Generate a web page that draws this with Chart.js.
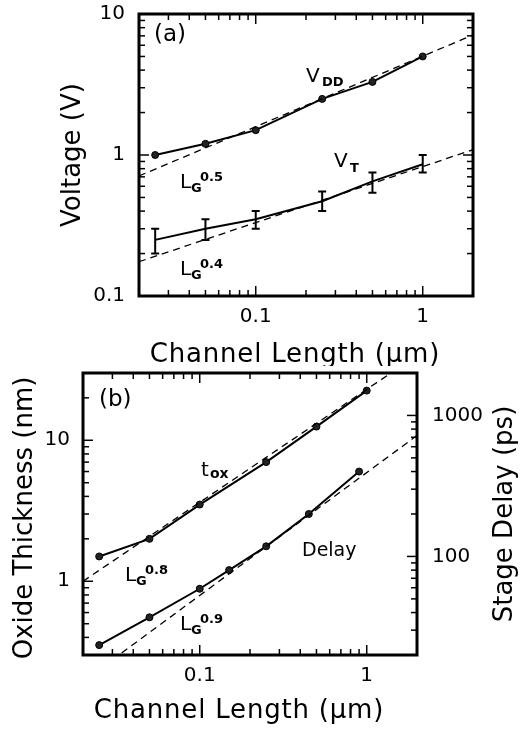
<!DOCTYPE html>
<html>
<head>
<meta charset="utf-8">
<script src="https://cdn.jsdelivr.net/npm/chart.js@4.4.1/dist/chart.umd.min.js"></script>
<style>
  body { margin: 0; background: #fff; }
  #wrap { position: relative; width: 520px; height: 731px; }
  canvas { position: absolute; left: 0; }
</style>
</head>
<body>
<div id="wrap">
  <canvas id="chartA" width="520" height="366" style="top:0px"></canvas>
  <canvas id="chartB" width="520" height="365" style="top:366px"></canvas>
</div>
<script>
// panel (a): voltages vs channel length
const lengthA = [0.025, 0.05, 0.1, 0.25, 0.5, 1];
const vdd = [1.0, 1.2, 1.5, 2.5, 3.3, 5.0];
const vt = [0.25, 0.3, 0.35, 0.47, 0.65, 0.86];
const vtLow = [0.2, 0.25, 0.3, 0.4, 0.54, 0.75];
const vtHigh = [0.3, 0.35, 0.4, 0.55, 0.75, 1.0];
// dashed power-law guides, end points
const fitVddX = [0.02, 2];
const fitVddY = [0.71, 7.1];
const fitVtX = [0.02, 2];
const fitVtY = [0.175, 1.09];

// panel (b): oxide thickness and stage delay
const lengthTox = [0.025, 0.05, 0.1, 0.25, 0.5, 1];
const tox = [1.5, 2.0, 3.5, 7.0, 12.5, 22.5];
const lengthDelay = [0.025, 0.05, 0.1, 0.15, 0.25, 0.45, 0.9];
const delay = [23.5, 37, 59, 80, 118, 200, 400];
const fitToxX = [0.02, 2];
const fitToxY = [1.0, 40];
const fitDelayX = [0.02, 2];
const fitDelayY = [13, 720];

// tick labels
const xTicks = [0.1, 1];
const yTicksA = [0.1, 1, 10];
const yTicksB = [1, 10];
const y2TicksB = [100, 1000];

const FONT = '"DejaVu Sans", sans-serif';
Chart.defaults.font.family = FONT;
Chart.defaults.color = '#000';

function pairs(xs, ys) {
    return xs.map((x, i) => ({ x: x, y: ys[i] }));
}

function zeroPad(s) {
    s.paddingLeft = 0; s.paddingRight = 0; s.paddingTop = 0; s.paddingBottom = 0;
}

function logAxis(min, max, ticks, pos, size, pad) {
    return {
        type: 'logarithmic', min: min, max: max, position: pos,
        grid: { display: false, drawTicks: false },
        border: { display: false },
        ticks: { color: '#000', font: { size: 20 }, padding: pad, maxRotation: 0, autoSkip: false,
                 callback: v => String(v) },
        afterBuildTicks: s => { s.ticks = ticks.map(v => ({ value: v })); },
        afterFit: s => {
            if (s.isHorizontal()) s.height = size; else s.width = size;
            zeroPad(s);
        }
    };
}

// minor + major tick marks pointing into the frame
function logTicks(ctx, scale, side, area) {
    const lo = Math.floor(Math.log10(scale.min));
    const hi = Math.ceil(Math.log10(scale.max));
    for (let k = lo; k <= hi; k++) {
        for (let m = 1; m <= 9; m++) {
            const v = m * Math.pow(10, k);
            if (v < scale.min * 1.001 || v > scale.max * 0.999) continue;
            const p = scale.getPixelForValue(v);
            const len = m === 1 ? 10 : 6;
            ctx.beginPath();
            if (side === 'bottom') { ctx.moveTo(p, area.bottom); ctx.lineTo(p, area.bottom - len); }
            if (side === 'top') { ctx.moveTo(p, area.top); ctx.lineTo(p, area.top + len); }
            if (side === 'left') { ctx.moveTo(area.left, p); ctx.lineTo(area.left + len, p); }
            if (side === 'right') { ctx.moveTo(area.right, p); ctx.lineTo(area.right - len, p); }
            ctx.stroke();
        }
    }
}

function txt(ctx, s, x, y, size, bold) {
    ctx.font = (bold ? 'bold ' : '') + size + 'px ' + FONT;
    ctx.fillText(s, x, y);
}

function vtitle(ctx, s, x, y) {
    ctx.save();
    ctx.translate(x, y);
    ctx.rotate(-Math.PI / 2);
    ctx.textAlign = 'center';
    ctx.font = '26px ' + FONT;
    ctx.fillText(s, 0, 0);
    ctx.restore();
}

function htitle(ctx, s, x, y) {
    ctx.save();
    ctx.textAlign = 'center';
    ctx.letterSpacing = '0.8px';
    ctx.font = '26px ' + FONT;
    ctx.fillText(s, x, y);
    ctx.restore();
}

function drawLG(ctx, x, y, sup) {
    txt(ctx, 'L', x, y, 20, false);
    txt(ctx, 'G', x + 11, y + 4, 13, true);
    txt(ctx, sup, x + 20, y - 7, 13, true);
}

function frame(ctx, area) {
    ctx.lineWidth = 3;
    ctx.strokeRect(area.left, area.top, area.right - area.left, area.bottom - area.top);
}

const decorA = {
    id: 'decorA',
    afterDraw(chart) {
        const ctx = chart.ctx, area = chart.chartArea;
        const xs = chart.scales.x, ys = chart.scales.y;
        ctx.save();
        ctx.strokeStyle = '#000';
        ctx.fillStyle = '#000';
        // error bars on V_T
        ctx.lineWidth = 2;
        lengthA.forEach((l, i) => {
            const px = xs.getPixelForValue(l);
            const p1 = ys.getPixelForValue(vtLow[i]);
            const p2 = ys.getPixelForValue(vtHigh[i]);
            ctx.beginPath();
            ctx.moveTo(px, p1); ctx.lineTo(px, p2);
            ctx.moveTo(px - 4, p1); ctx.lineTo(px + 4, p1);
            ctx.moveTo(px - 4, p2); ctx.lineTo(px + 4, p2);
            ctx.stroke();
        });
        ctx.lineWidth = 1.5;
        logTicks(ctx, xs, 'bottom', area);
        logTicks(ctx, xs, 'top', area);
        logTicks(ctx, ys, 'left', area);
        logTicks(ctx, ys, 'right', area);
        frame(ctx, area);
        // labels
        ctx.textAlign = 'left';
        ctx.textBaseline = 'alphabetic';
        txt(ctx, '(a)', 154, 41, 23, false);
        txt(ctx, 'V', 306, 82, 20, false);
        txt(ctx, 'DD', 322, 86, 13, true);
        txt(ctx, 'V', 334, 167, 20, false);
        txt(ctx, 'T', 350, 172, 13, true);
        drawLG(ctx, 180, 188, '0.5');
        drawLG(ctx, 180, 275, '0.4');
        vtitle(ctx, 'Voltage (V)', 80, 155);
        htitle(ctx, 'Channel Length (\u03bcm)', 295, 362);
        ctx.restore();
    }
};

const decorB = {
    id: 'decorB',
    afterDraw(chart) {
        const ctx = chart.ctx, area = chart.chartArea;
        ctx.save();
        ctx.strokeStyle = '#000';
        ctx.fillStyle = '#000';
        ctx.lineWidth = 1.5;
        logTicks(ctx, chart.scales.x, 'bottom', area);
        logTicks(ctx, chart.scales.x, 'top', area);
        logTicks(ctx, chart.scales.y, 'left', area);
        logTicks(ctx, chart.scales.y2, 'right', area);
        frame(ctx, area);
        ctx.textAlign = 'left';
        ctx.textBaseline = 'alphabetic';
        txt(ctx, '(b)', 99, 40, 23, false);
        txt(ctx, 't', 201, 110, 20, false);
        txt(ctx, 'ox', 210, 112, 14, true);
        txt(ctx, 'Delay', 302, 190, 19, false);
        drawLG(ctx, 125, 215, '0.8');
        drawLG(ctx, 180, 264, '0.9');
        vtitle(ctx, 'Oxide Thickness (nm)', 32, 152);
        vtitle(ctx, 'Stage Delay (ps)', 512, 148);
        htitle(ctx, 'Channel Length (\u03bcm)', 239, 352);
        ctx.restore();
    }
};

const solid = { showLine: true, borderColor: '#000', borderWidth: 2, pointRadius: 3.5,
                pointBackgroundColor: '#222', pointBorderColor: '#000', pointBorderWidth: 1 };
const dashed = { showLine: true, borderColor: '#000', borderWidth: 1.3, borderDash: [7, 5], pointRadius: 0 };

const common = {
    responsive: false, animation: false, devicePixelRatio: 1,
    plugins: { legend: { display: false }, tooltip: { enabled: false } }
};

new Chart(document.getElementById('chartA'), {
    type: 'scatter',
    data: {
        datasets: [
            Object.assign({ data: pairs(fitVddX, fitVddY) }, dashed),
            Object.assign({ data: pairs(fitVtX, fitVtY) }, dashed),
            Object.assign({ data: pairs(lengthA, vdd) }, solid),
            Object.assign({ data: pairs(lengthA, vt) }, solid, { pointRadius: 0 })
        ]
    },
    options: Object.assign({}, common, {
        layout: { padding: { top: 14, right: 47, left: 0, bottom: 0 } },
        scales: {
            x: logAxis(0.02, 2, xTicks, 'bottom', 70, 9),
            y: logAxis(0.1, 10, yTicksA, 'left', 139, 14)
        }
    }),
    plugins: [decorA]
});

new Chart(document.getElementById('chartB'), {
    type: 'scatter',
    data: {
        datasets: [
            Object.assign({ data: pairs(fitToxX, fitToxY), yAxisID: 'y' }, dashed),
            Object.assign({ data: pairs(fitDelayX, fitDelayY), yAxisID: 'y2' }, dashed),
            Object.assign({ data: pairs(lengthTox, tox), yAxisID: 'y' }, solid),
            Object.assign({ data: pairs(lengthDelay, delay), yAxisID: 'y2' }, solid)
        ]
    },
    options: Object.assign({}, common, {
        layout: { padding: { top: 7, right: 0, left: 0, bottom: 0 } },
        scales: {
            x: logAxis(0.02, 2, xTicks, 'bottom', 76, 9),
            y: logAxis(0.3, 30, yTicksB, 'left', 83, 13),
            y2: logAxis(20, 2000, y2TicksB, 'right', 103, 15)
        }
    }),
    plugins: [decorB]
});
</script>
</body>
</html>
